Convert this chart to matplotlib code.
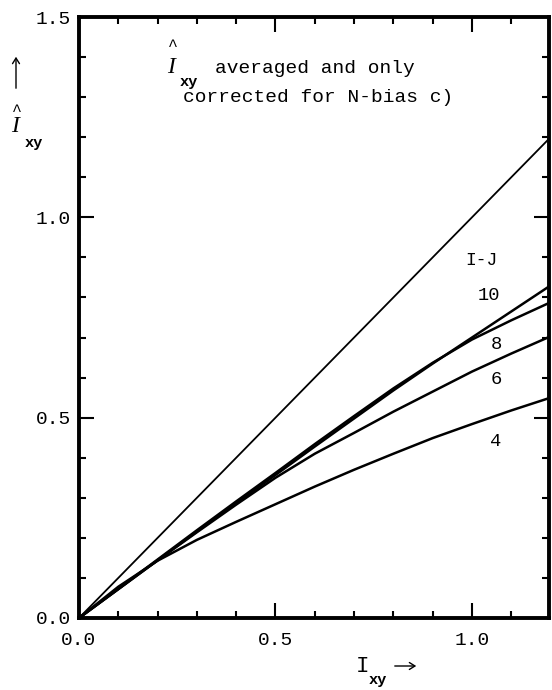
import numpy as np
import matplotlib
matplotlib.use("Agg")
import matplotlib.pyplot as plt
from matplotlib.ticker import MultipleLocator
from matplotlib.patches import FancyArrowPatch

# values
x_vals = [0.0, 0.1, 0.2, 0.3, 0.4, 0.5, 0.6, 0.7, 0.8, 0.9, 1.0, 1.1, 1.2]
ij_10 = [0.0, 0.072, 0.144, 0.216, 0.287, 0.357, 0.428, 0.498, 0.568, 0.635, 0.700, 0.765, 0.830]
ij_8 = [0.0, 0.073, 0.146, 0.219, 0.291, 0.362, 0.434, 0.504, 0.573, 0.637, 0.695, 0.743, 0.788]
ij_6 = [0.0, 0.072, 0.144, 0.214, 0.283, 0.350, 0.410, 0.462, 0.515, 0.565, 0.615, 0.660, 0.703]
ij_4 = [0.0, 0.078, 0.143, 0.195, 0.240, 0.284, 0.328, 0.370, 0.410, 0.449, 0.484, 0.518, 0.550]
curve_names = ["10", "8", "6", "4"]
label_pos = [(1.043, 0.806), (1.061, 0.683), (1.061, 0.595), (1.061, 0.440)]

x_ticks = [0.0, 0.5, 1.0]
y_ticks = [0.0, 0.5, 1.0, 1.5]

MONO = "Liberation Mono"
W, H = 552, 690

fig = plt.figure(figsize=(W / 100, H / 100), dpi=100)
ax = fig.add_axes([79 / W, 1 - 618 / H, (549 - 79) / W, (618 - 17) / H])

x = np.array(x_vals)
ax.plot(x, x, color="black", lw=1.3)
for ys in (ij_10, ij_8, ij_6, ij_4):
    ax.plot(x, ys, color="black", lw=1.8)

ax.set_xlim(0, 1.196)
ax.set_ylim(0, 1.5)

for sp in ax.spines.values():
    sp.set_linewidth(2.8)

ax.xaxis.set_minor_locator(MultipleLocator(0.1))
ax.yaxis.set_minor_locator(MultipleLocator(0.1))
ax.set_xticks(x_ticks)
ax.set_xticklabels([f"{v:.1f}" for v in x_ticks])
ax.set_yticks(y_ticks)
ax.set_yticklabels([f"{v:.1f}" for v in y_ticks])

ax.tick_params(which="both", direction="in", top=True, right=True, width=1.5, color="black")
ax.tick_params(which="major", length=11)
ax.tick_params(which="minor", length=5)
ax.tick_params(axis="x", which="major", pad=10)
ax.tick_params(axis="y", which="major", pad=6)
for lab in ax.get_xticklabels() + ax.get_yticklabels():
    lab.set_fontfamily(MONO)
    lab.set_fontsize(14)

# annotation inside the axes
ax.text(0.224, 1.359, "I", family="Liberation Serif", style="italic", fontsize=17, va="baseline")
ax.text(0.239, 1.415, "^", family=MONO, fontsize=12, ha="center", va="baseline")
ax.text(0.257, 1.329, "xy", family=MONO, fontsize=11, weight="bold", va="baseline")
ax.text(0.346, 1.359, "averaged and only", family=MONO, fontsize=14, va="baseline")
ax.text(0.265, 1.287, "corrected for N-bias c)", family=MONO, fontsize=14, va="baseline")

ax.text(1.025, 0.893, "I-J", family=MONO, fontsize=13, ha="center", va="center")
for name, (lx, ly) in zip(curve_names, label_pos):
    ax.text(lx, ly, name, family=MONO, fontsize=13.5, ha="center", va="center")


def fpx(px, py):
    return (px / W, 1 - py / H)


# y axis label with arrow
fig.text(*fpx(11, 132), "I", family="Liberation Serif", style="italic", fontsize=17, va="baseline")
fig.text(*fpx(17, 116), "^", family=MONO, fontsize=12, ha="center", va="baseline")
fig.text(*fpx(25, 147), "xy", family=MONO, fontsize=11, weight="bold", va="baseline")
fig.add_artist(FancyArrowPatch(
    fpx(16, 91), fpx(16, 54), transform=fig.transFigure,
    arrowstyle="->,head_length=4,head_width=2.5", lw=1.0, color="black"))

# x axis label with arrow
fig.text(*fpx(356, 672), "I", family=MONO, fontsize=16, va="baseline")
fig.text(*fpx(369, 684), "xy", family=MONO, fontsize=11, weight="bold", va="baseline")
fig.add_artist(FancyArrowPatch(
    fpx(392, 666), fpx(419, 666), transform=fig.transFigure,
    arrowstyle="->,head_length=4,head_width=2.5", lw=1.0, color="black"))

fig.savefig("out.png", dpi=100)
plt.close(fig)
